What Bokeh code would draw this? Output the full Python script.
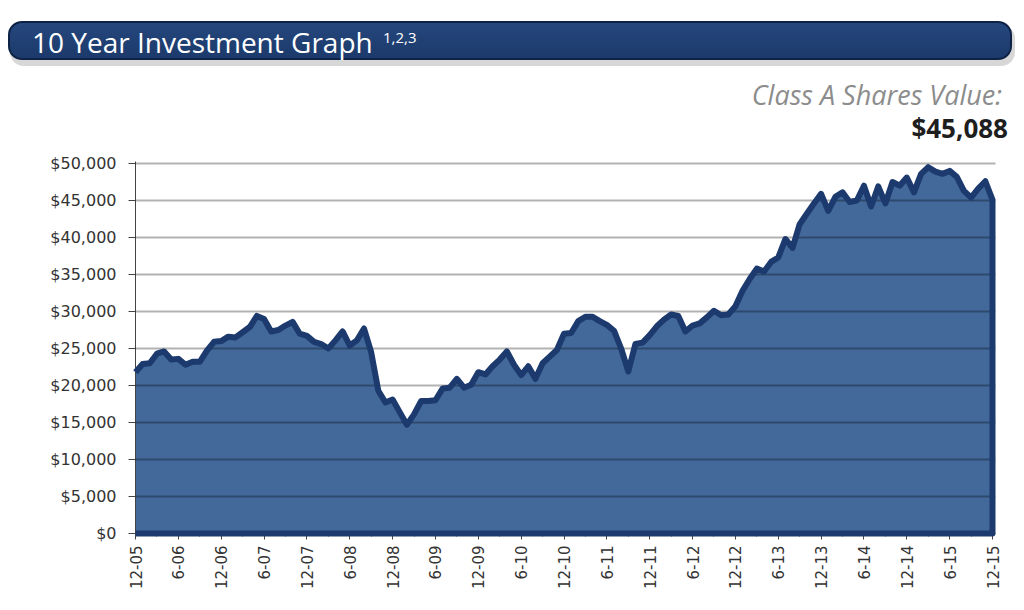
import math
from bokeh.plotting import figure
from bokeh.layouts import column
from bokeh.models import Range1d, FixedTicker, NumeralTickFormatter, Div
from bokeh.embed import file_html
from bokeh.resources import INLINE

# Monthly value of a hypothetical investment in Class A shares, 12-05 .. 12-15
class_a_values = [
    21800, 22900, 23000, 24300, 24600, 23500, 23600, 22800, 23200, 23200,
    24700, 25900, 26000, 26600, 26500, 27200, 27900, 29400, 29000, 27300,
    27500, 28100, 28600, 27000, 26700, 25900, 25600, 25000, 26100, 27300,
    25400, 26100, 27700, 24500, 19300, 17700, 18100, 16400, 14700, 16100,
    17900, 17900, 18000, 19600, 19700, 20900, 19700, 20100, 21800, 21500,
    22600, 23500, 24600, 22800, 21400, 22600, 20900, 23000, 23900, 24800,
    27000, 27100, 28700, 29300, 29300, 28700, 28200, 27400, 25000, 21900,
    25600, 25800, 26800, 28000, 28900, 29600, 29400, 27300, 28100, 28400,
    29200, 30100, 29500, 29600, 30700, 32800, 34400, 35800, 35400, 36700,
    37300, 39800, 38600, 41800, 43200, 44600, 45900, 43600, 45500, 46100,
    44800, 45000, 47000, 44200, 46900, 44600, 47500, 47000, 48100, 46100,
    48600, 49500, 48900, 48600, 49000, 48200, 46300, 45400, 46600, 47600,
    45088,
]
x_tick_labels = ["12-05", "6-06", "12-06", "6-07", "12-07", "6-08", "12-08",
                 "6-09", "12-09", "6-10", "12-10", "6-11", "12-11", "6-12",
                 "12-12", "6-13", "12-13", "6-14", "12-14", "6-15", "12-15"]
y_ticks = [0, 5000, 10000, 15000, 20000, 25000, 30000, 35000, 40000, 45000, 50000]
title_text = "10 Year Investment Graph"
title_notes = "1,2,3"
value_caption = "Class A Shares Value:"
final_value_text = "$45,088"

months = list(range(len(class_a_values)))
x_ticks = list(range(0, len(class_a_values), 6))
x_minor = list(range(0, len(class_a_values), 3))

NAVY = "#1C3A6E"
AREA = "#42699A"
HEADER_H = 150

# ---------------- header ----------------
header_html = f"""
<div style="position:relative;width:1024px;height:{HEADER_H}px;overflow:hidden;
            font-family:'Open Sans',sans-serif;line-height:1;background:white;">
  <div style="position:absolute;left:10px;top:25px;width:1005px;height:41px;
              border-radius:14px;background:rgba(110,110,110,0.28);"></div>
  <div style="position:absolute;left:8px;top:21px;width:1004px;height:39px;
              border-radius:14px;background:linear-gradient(#25477d,#1c3a6b);
              border:2px solid #0D2245;box-sizing:border-box;"></div>
  <div style="position:absolute;left:32px;top:28px;font-size:28px;color:white;
              white-space:nowrap;">{title_text}</div>
  <div style="position:absolute;left:383px;top:30px;font-size:15px;color:white;
              white-space:nowrap;">{title_notes}</div>
  <div style="position:absolute;right:22px;top:81px;font-size:27px;font-style:italic;
              color:#8C8C8C;white-space:nowrap;">{value_caption}</div>
  <div style="position:absolute;right:16px;top:115px;font-size:26px;font-weight:bold;
              color:#1E1E1E;white-space:nowrap;">{final_value_text}</div>
</div>
"""
header = Div(text=header_html, width=1024, height=HEADER_H, margin=0)

# ---------------- chart ----------------
p = figure(width=1024, height=610 - HEADER_H, output_backend="svg", toolbar_location=None,
           x_range=Range1d(0, 120.42), y_range=Range1d(0, 50270),
           min_border_left=135, min_border_right=29, min_border_top=161 - HEADER_H,
           min_border_bottom=77, margin=0)
p.outline_line_color = None
p.background_fill_color = "white"
p.border_fill_color = "white"

p.varea(x=months, y1=0, y2=class_a_values, fill_color=AREA)
outline_x = months + [months[-1], months[0]]
outline_y = class_a_values + [0, 0]
p.line(outline_x, outline_y, line_color=NAVY, line_width=6, line_join="round",
       level="annotation")

p.xgrid.visible = False
p.ygrid.grid_line_color = "black"
p.ygrid.grid_line_alpha = 0.3
p.ygrid.grid_line_width = 2
p.ygrid.level = "guide"

p.xaxis.ticker = FixedTicker(ticks=x_ticks, minor_ticks=x_minor)
p.xaxis.major_label_overrides = {t: lab for t, lab in zip(x_ticks, x_tick_labels)}
p.xaxis.major_label_orientation = math.pi / 2
p.xaxis.major_tick_out = 6
p.xaxis.major_tick_in = 3
p.xaxis.minor_tick_out = 3
p.xaxis.minor_tick_in = 2
p.xaxis.major_label_standoff = 6
p.xaxis.major_label_text_font_size = "15px"

p.yaxis.ticker = FixedTicker(ticks=y_ticks)
p.yaxis.formatter = NumeralTickFormatter(format="$0,0")
p.yaxis.major_tick_out = 7
p.yaxis.major_tick_in = 0
p.yaxis.minor_tick_line_color = None
p.yaxis.major_label_standoff = 12
p.yaxis.major_label_text_font_size = "16px"

for ax in (p.xaxis, p.yaxis):
    ax.major_label_text_font = "DejaVu Sans"
    ax.major_label_text_color = "#333333"
    ax.axis_line_color = "#444444"
    ax.major_tick_line_color = "#444444"
    ax.minor_tick_line_color = "#444444"

layout = column(header, p, spacing=0, margin=0)
open("out.html", "w").write(file_html(layout, INLINE))
